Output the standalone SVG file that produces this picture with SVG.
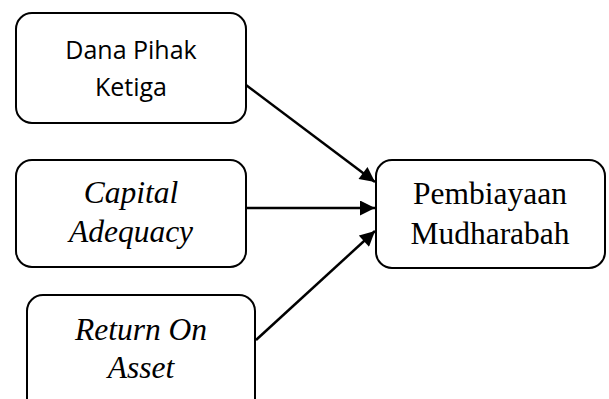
<svg xmlns="http://www.w3.org/2000/svg" width="609" height="399" viewBox="0 0 609 399">
<defs>
<style>
.box{fill:#fff;stroke:#000;stroke-width:2}
.sans{font-family:"Open Sans","Liberation Sans",sans-serif;font-size:25px;fill:#000;text-anchor:middle}
.serif{font-family:"Liberation Serif","Times New Roman",serif;font-size:31.5px;fill:#000;text-anchor:middle}
.it{font-style:italic}
.edge{stroke:#000;stroke-width:2.5;fill:none;marker-end:url(#ah)}
</style>
<marker id="ah" viewBox="0 0 10 10" refX="10" refY="5" markerWidth="6.4" markerHeight="6" markerUnits="strokeWidth" orient="auto">
<path d="M0,0 L10,5 L0,10 Z" fill="#000"/>
</marker>
</defs>
<rect width="609" height="399" fill="#fff"/>
<g id="connectors">
<line class="edge" x1="246" y1="85" x2="375" y2="182"/>
<line class="edge" x1="246" y1="208" x2="375" y2="208"/>
<line class="edge" x1="256" y1="340" x2="375" y2="231"/>
</g>
<g id="node-dpk">
<rect class="box" x="16" y="13" width="230" height="110" rx="16"/>
<text class="sans" x="131" y="59">Dana Pihak</text>
<text class="sans" x="131" y="96">Ketiga</text>
</g>
<g id="node-car">
<rect class="box" x="16" y="160" width="230" height="107" rx="16"/>
<text class="serif it" x="131" y="203">Capital</text>
<text class="serif it" x="131" y="242">Adequacy</text>
</g>
<g id="node-roa">
<rect class="box" x="27" y="295" width="228" height="120" rx="16"/>
<text class="serif it" x="141" y="340">Return On</text>
<text class="serif it" x="141" y="378">Asset</text>
</g>
<g id="node-pm">
<rect class="box" x="376" y="160" width="229" height="108" rx="16"/>
<text class="serif" x="490" y="204">Pembiayaan</text>
<text class="serif" x="490" y="244">Mudharabah</text>
</g>
</svg>
